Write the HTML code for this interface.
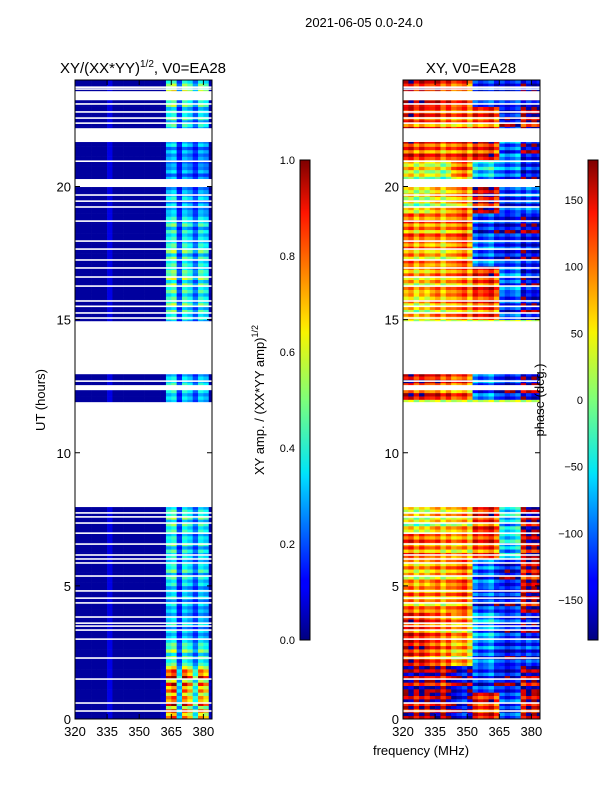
<!DOCTYPE html>
<html><head><meta charset="utf-8"><style>
body{margin:0;background:#fff;}
svg{display:block;font-family:"Liberation Sans",sans-serif;}
</style></head><body>
<svg id="fig" width="600" height="800" xmlns="http://www.w3.org/2000/svg">
<defs>
<clipPath id="clipL"><rect x="75" y="80" width="137" height="639"/></clipPath>
<clipPath id="clipR"><rect x="403" y="80" width="137" height="639"/></clipPath>
<linearGradient id="jet" x1="0" y1="1" x2="0" y2="0">
<stop offset="0" stop-color="#00007f"/><stop offset="0.11" stop-color="#0000ff"/><stop offset="0.125" stop-color="#0000ff"/>
<stop offset="0.34" stop-color="#00dcff"/><stop offset="0.35" stop-color="#00e5f7"/><stop offset="0.5" stop-color="#7dff7a"/>
<stop offset="0.64" stop-color="#f7f400"/><stop offset="0.66" stop-color="#ffe200"/><stop offset="0.89" stop-color="#ff1400"/>
<stop offset="1" stop-color="#7f0000"/></linearGradient>
</defs>
<text x="364" y="27" font-size="13" text-anchor="middle">2021-06-05 0.0-24.0</text>
<text x="143" y="73" font-size="15" text-anchor="middle">XY/(XX*YY)<tspan font-size="10" dy="-6">1/2</tspan><tspan dy="6">, V0=EA28</tspan></text>
<text x="471" y="73" font-size="15" text-anchor="middle">XY, V0=EA28</text>
<g id="cellsL" clip-path="url(#clipL)"></g>
<g id="cellsR" clip-path="url(#clipR)"></g>
<g id="axes"></g>
<text transform="translate(45,400) rotate(-90)" font-size="13" text-anchor="middle">UT (hours)</text>
<text x="421" y="755" font-size="13" text-anchor="middle">frequency (MHz)</text>
<rect x="300" y="160" width="10" height="480" fill="url(#jet)" stroke="#000" stroke-width="1"/>
<rect x="588" y="160" width="10" height="480" fill="url(#jet)" stroke="#000" stroke-width="1"/>
<text transform="translate(264,400) rotate(-90)" font-size="13" text-anchor="middle">XY amp. / (XX*YY amp)<tspan font-size="9" dy="-6">1/2</tspan></text>
<text transform="translate(544,400) rotate(-90)" font-size="13" text-anchor="middle">phase (deg.)</text>
</svg>
<script>
// ---- data ----
const ampTicks=[0,0.2,0.4,0.6,0.8,1.0];
const phaseTicks=[-150,-100,-50,0,50,100,150];
const hourTicks=[0,5,10,15,20];
const freqTicks=[320,335,350,365,380];
// amplitude profile per 2.5 MHz bin starting at 320 MHz
const freqProfile=[0.03,0.03,0.03,0.03,0.03,0.03,0.1,0.03,0.03,0.03,0.03,0.03,0.03,0.03,0.03,0.03,0.04,0.4,0.45,0.18,0.42,0.36,0.22,0.4,0.35,0.04];
// amplitude gain per hour
const rowGain=[1.9,2.0,1.15,0.85,0.85,1.0,1.0,1.1,1,1,1,1,0.9,1,1,1.1,1.2,1.1,1.0,0.8,0.7,0.75,1.0,1.3];
const stripe=[1,0.8,1.1,0.7,1.2,0.9,1,0.75];
// phase grid: per hour, 6 freq bins of ~10.7 MHz
const phaseGrid=[
[150,160,-150,120,-120,150],[170,150,-160,-120,-150,170],[130,90,60,-100,-140,-120],[120,90,70,-80,-130,-150],
[80,70,90,-120,-140,160],[60,70,90,-100,-150,150],[100,80,70,110,-60,160],[30,50,60,120,-60,170],
[0,0,0,0,0,0],[0,0,0,0,0,0],[0,0,0,0,0,0],[0,0,0,0,0,0],
[140,120,100,-100,-140,-160],[0,0,0,0,0,0],[0,0,0,0,0,0],[50,70,90,110,-120,-150],
[60,70,90,120,-100,-140],[80,60,90,-100,-130,-140],[90,80,100,-120,-140,-150],[30,50,80,150,-120,-100],
[40,20,90,-60,-100,-130],[120,100,110,130,-100,-150],[120,100,90,110,-150,160],[140,120,100,-130,-140,-150]];
const phaseJitter=[0,35,-45,20,-25,40,-15,25];
const colJitter=[0,20,-25,10,-15];
// data-present time segments (hours)
const segments=[[0,7.96],[11.9,12.35],[12.54,12.95],[14.94,19.98],[20.28,21.67],[22.19,23.24],[23.58,24]];
// flagged thin lines (hours)
const flagLines=[0.3,0.6,1.5,2.29,3.0,3.34,3.49,3.6,3.83,4.36,4.54,4.81,5.37,5.86,6.01,6.16,6.57,6.98,7.36,7.59,7.74,12.69,15.06,15.25,15.5,15.7,16.26,16.6,16.94,17.24,17.65,17.95,18.7,19.23,19.45,19.68,20.95,22.38,22.57,22.8,23.1,23.66,23.73];

// ---- scales ----
const NS='http://www.w3.org/2000/svg';
const yS=h=>719-h*26.625;
const xL=f=>75+(f-320)*2.14;
const xR=f=>403+(f-320)*2.14;
const yAmp=v=>640-v*480;
const yPh=v=>640-(v+180)/360*480;
function jet(v){v=Math.max(0,Math.min(1,v));
 const r=Math.max(0,Math.min(1,1.5-Math.abs(4*v-3))),g=Math.max(0,Math.min(1,1.5-Math.abs(4*v-2))),b=Math.max(0,Math.min(1,1.5-Math.abs(4*v-1)));
 return `rgb(${Math.round(r*255)},${Math.round(g*255)},${Math.round(b*255)})`;}
function mk(tag,attrs,parent){const e=document.createElementNS(NS,tag);for(const k in attrs)e.setAttribute(k,attrs[k]);parent.appendChild(e);return e;}
const gL=document.getElementById('cellsL'),gR=document.getElementById('cellsR'),ax=document.getElementById('axes');
const dh=0.125;
for(let r=0;r<192;r++){
 const h=r*dh,hi=Math.floor(h),sub=r%8;
 const y0=yS(h+dh),ht=yS(h)-y0+0.3;
 for(let c=0;c<26;c++){
  const f=320+c*2.5;
  let v=freqProfile[c];
  if(c>=17||(h<2.3&&c>=16))v=freqProfile[c]*rowGain[hi]*stripe[sub];
  const a=mk('rect',{x:xL(f),y:y0,width:2.14*2.5+0.3,height:ht,fill:jet(v)},gL);
  
  
  let p=phaseGrid[hi][Math.min(5,Math.floor(c*2.5/10.67))]+phaseJitter[sub]+colJitter[c%5];
  p=((p+180)%360+360)%360-180;
  const b=mk('rect',{x:xR(f),y:y0,width:2.14*2.5+0.3,height:ht,fill:jet((p+180)/360)},gR);
  
  
 }
}
// gaps
let prev=0;const gaps=[];
segments.forEach(s=>{if(s[0]>prev)gaps.push([prev,s[0]]);prev=s[1];});
if(prev<24)gaps.push([prev,24]);
[gL,gR].forEach((g,i)=>{
 const x=i?403:75;
 gaps.forEach(gp=>{const e=mk('rect',{x:x,y:yS(gp[1]),width:137,height:yS(gp[0])-yS(gp[1]),fill:'#fff'},g);
  
  });
 flagLines.forEach(fl=>{const e=mk('rect',{x:x,y:yS(fl)-0.8,width:137,height:1.6,fill:'#fff'},g);
  
  });
});
// axes frames & ticks
[75,403].forEach((x0,i)=>{
 const fr=mk('rect',{x:x0,y:80,width:137,height:639,fill:'none',stroke:'#000','stroke-width':1},ax);
 
 
 hourTicks.forEach(h=>{const y=yS(h);
  mk('line',{x1:x0,y1:y,x2:x0+5,y2:y,stroke:'#000'},ax);mk('line',{x1:x0+137,y1:y,x2:x0+132,y2:y,stroke:'#000'},ax);
  const t=mk('text',{x:x0-4,y:y+5,'font-size':13,'text-anchor':'end'},ax);t.textContent=h;
  
  });
 freqTicks.forEach(f=>{const x=x0+(f-320)*2.14;
  mk('line',{x1:x,y1:719,x2:x,y2:714,stroke:'#000'},ax);mk('line',{x1:x,y1:80,x2:x,y2:85,stroke:'#000'},ax);
  const t=mk('text',{x:x,y:736,'font-size':13,'text-anchor':'middle'},ax);t.textContent=f;
  
  });
});
ampTicks.forEach(v=>{const y=yAmp(v);
 mk('line',{x1:300,y1:y,x2:304,y2:y,stroke:'#000'},ax);mk('line',{x1:310,y1:y,x2:306,y2:y,stroke:'#000'},ax);
 const t=mk('text',{x:295,y:y+4,'font-size':11,'text-anchor':'end'},ax);t.textContent=v.toFixed(1);
 
 });
phaseTicks.forEach(v=>{const y=yPh(v);
 mk('line',{x1:588,y1:y,x2:592,y2:y,stroke:'#000'},ax);mk('line',{x1:598,y1:y,x2:594,y2:y,stroke:'#000'},ax);
 const t=mk('text',{x:583,y:y+4,'font-size':11,'text-anchor':'end'},ax);t.textContent=v<0?'\u2212'+(-v):v;
 
 });
</script>
</body></html>
